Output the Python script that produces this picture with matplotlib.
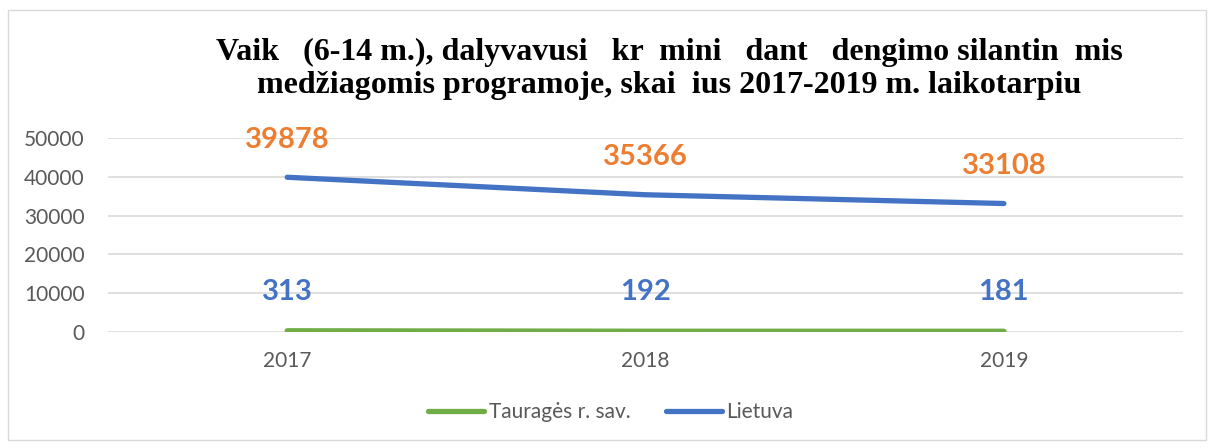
import matplotlib.pyplot as plt
from matplotlib.patches import Rectangle

# data
years = ['2017', '2018', '2019']
taurages = [313, 192, 181]
lietuva = [39878, 35366, 33108]
y_ticks = [0, 10000, 20000, 30000, 40000, 50000]

title = ('Vaik   (6-14 m.), dalyvavusi   kr  mini   dant   dengimo silantin  mis\n'
         'medžiagomis programoje, skai  ius 2017-2019 m. laikotarpiu')

GREEN = '#70AD47'
BLUE = '#4472C4'
ORANGE = '#ED7D31'
GREY = '#595959'

fig = plt.figure(figsize=(12.14, 4.48), dpi=100)
fig.patch.set_facecolor('white')
fig.patches.append(Rectangle((0.007, 0.018), 0.986, 0.96, transform=fig.transFigure,
                             fill=False, edgecolor='#D9D9D9', linewidth=1))

ax = fig.add_axes([0.089, 0.259, 0.8855, 0.433])
x = range(len(years))

ax.plot(x, taurages, color=GREEN, linewidth=3.8, solid_capstyle='round', label='Tauragės r. sav.')
ax.plot(x, lietuva, color=BLUE, linewidth=3.8, solid_capstyle='round', label='Lietuva')

# data labels (colours swapped as in the original)
for xi, v in zip(x, lietuva):
    ax.annotate(str(v), (xi, v), xytext=(0, 27), textcoords='offset points',
                ha='center', va='center', color=ORANGE, fontsize=21,
                fontweight='bold', family='Lato')
for xi, v in zip(x, taurages):
    ax.annotate(str(v), (xi, v), xytext=(0, 28), textcoords='offset points',
                ha='center', va='center', color=BLUE, fontsize=21,
                fontweight='bold', family='Lato')

ax.set_xlim(-0.5, 2.5)
ax.set_ylim(0, 50000)
ax.set_yticks(y_ticks)
ax.set_yticklabels([str(t) for t in y_ticks])
ax.set_xticks(list(x))
ax.set_xticklabels(years)
ax.tick_params(length=0, labelcolor=GREY, labelsize=15)
ax.tick_params(axis='y', pad=17)
ax.tick_params(axis='x', pad=14)
for lbl in ax.get_xticklabels() + ax.get_yticklabels():
    lbl.set_family('Lato')
ax.grid(axis='y', color='#D9D9D9', linewidth=1.2)
ax.set_axisbelow(True)
for s in ax.spines.values():
    s.set_visible(False)

fig.text(0.551, 0.846, title, ha='center', va='center', fontsize=23,
         fontweight='bold', family='Liberation Serif', linespacing=1.2)

leg = fig.legend(loc='center', bbox_to_anchor=(0.503, 0.08), ncol=2, frameon=False,
                 handlelength=2.7, handletextpad=0.2, columnspacing=1.7,
                 prop={'family': 'Lato', 'size': 15})
for t in leg.get_texts():
    t.set_color(GREY)

fig.savefig('out.png', dpi=100)
